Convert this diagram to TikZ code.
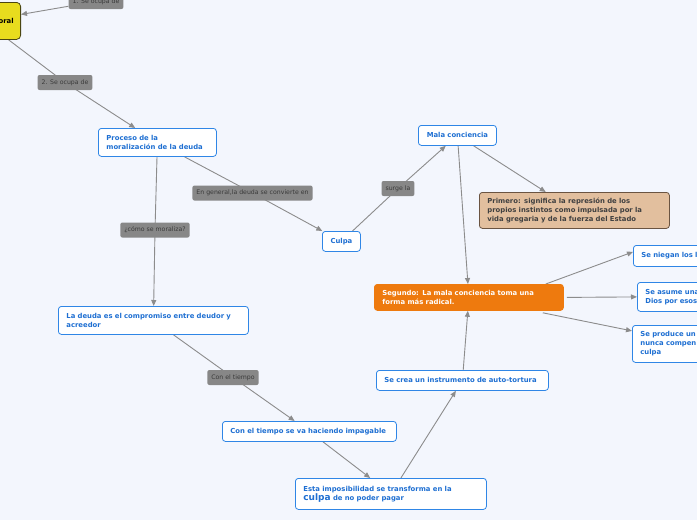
\documentclass[tikz,border=0pt]{standalone}
\usepackage{fontspec}
\setmainfont{DejaVu Sans}
\usetikzlibrary{arrows.meta}
\definecolor{bgc}{HTML}{F3F6FD}
\definecolor{tblue}{HTML}{2F86E6}
\definecolor{ttext}{HTML}{1E6FD2}
\definecolor{lblfill}{HTML}{878787}
\definecolor{lbltext}{HTML}{3A3A3A}
\definecolor{edgec}{HTML}{8C8C8C}
\definecolor{orangec}{HTML}{EE7A0E}
\definecolor{tanc}{HTML}{E2BF9E}
\definecolor{tanb}{HTML}{6A5442}
\definecolor{yellowc}{HTML}{E8DC1E}
\definecolor{yellowb}{HTML}{4A4612}
\pgfdeclarelayer{bg}
\pgfdeclarelayer{edges}
\pgfsetlayers{bg,edges,main}
\tikzset{
  topic/.style={rectangle, rounded corners=3pt, draw=tblue, line width=0.8pt, fill=white,
    text=ttext, font=\fontsize{6.85}{9}\selectfont\bfseries, align=left,
    inner xsep=8pt, inner ysep=3pt, anchor=north west},
  lbl/.style={rectangle, rounded corners=2pt, fill=lblfill, text=lbltext,
    font=\fontsize{6.2}{7}\selectfont, inner xsep=4pt, inner ysep=0pt, minimum height=15pt},
  conn/.style={draw=edgec, line width=0.9pt, -{Triangle[length=6pt,width=5pt]}},
}
\begin{document}
\begin{tikzpicture}[x=1pt,y=-1pt]
\useasboundingbox (0,0) rectangle (697,520);
\clip (0,0) rectangle (697,520);
\begin{pgfonlayer}{bg}
\fill[bgc] (0,0) rectangle (697,520);
\end{pgfonlayer}

% root
\node[rectangle, rounded corners=4pt, draw=yellowb, line width=0.8pt, fill=yellowc,
  font=\fontsize{6.85}{9}\selectfont\bfseries, text=black, anchor=north east,
  text width=60pt, align=right, inner xsep=7pt, minimum height=37pt] (root) at (21,2) {oral};

% labels
\node[lbl] (l1) at (96,1.5) {1. Se ocupa de};
\node[lbl] (l2) at (65,82.5) {2. Se ocupa de};
\node[lbl] (lcomo) at (155,230) {¿cómo se moraliza?};
\node[lbl] (lgen) at (252.5,193) {En general,la deuda se convierte en};
\node[lbl] (lsurge) at (398,188.5) {surge la};
\node[lbl] (ltiempo) at (233,377.5) {Con el tiempo};

% topics
\node[topic, text width=102pt, minimum height=28pt] (proc) at (98,128) {Proceso de la\\moralización de la deuda};
\node[topic, text width=22pt, minimum height=20pt, align=center] (culpa) at (322,231) {Culpa};
\node[topic, text width=62pt, minimum height=20pt, align=center] (mala) at (418,125) {Mala conciencia};
\node[topic, draw=tanb, fill=tanc, text=black!75, text width=174pt, minimum height=36pt] (prim) at (479,192)
  {Primero: significa la represión de los\\propios instintos como impulsada por la\\vida gregaria y de la fuerza del Estado};
\node[topic, draw=orangec, fill=orangec, text=white, text width=173pt, minimum height=26pt] (seg) at (374,284)
  {Segundo: La mala conciencia toma una\\forma más radical.};
\node[topic, text width=134pt, minimum height=21pt] (nieg) at (633,245) {Se niegan los l};
\node[topic, text width=134pt, minimum height=29pt] (asume) at (637,282) {Se asume una\\Dios por esos};
\node[topic, text width=134pt, minimum height=37pt] (prod) at (632,325) {Se produce un\\nunca compen\\culpa};
\node[topic, text width=174pt, minimum height=28pt] (deuda) at (58,306) {La deuda es el compromiso entre deudor y\\acreedor};
\node[topic, text width=158pt, minimum height=20pt] (impag) at (222,421) {Con el tiempo se va haciendo impagable};
\node[topic, text width=175pt, minimum height=31pt] (esta) at (295,478)
  {Esta imposibilidad se transforma en la\\{\fontsize{9}{9}\selectfont culpa} de no poder pagar};
\node[topic, text width=156pt, minimum height=20pt] (crea) at (376,370) {Se crea un instrumento de auto-tortura};

% edges
\begin{pgfonlayer}{edges}
\draw[conn] (l1) -- (root);
\draw[conn] (root) -- (l2.center) -- (proc);
\draw[conn] (proc) -- (lcomo.center) -- (deuda);
\draw[conn] (proc) -- (lgen.center) -- (culpa);
\draw[conn] (culpa) -- (lsurge.center) -- (mala);
\draw[conn] (mala) -- (prim);
\draw[conn] (mala) -- (seg);
\draw[conn] ([xshift=-18pt]seg.north east) -- ([yshift=4pt]nieg.west);
\draw[conn] ([xshift=3pt]seg.east) -- (asume.west);
\draw[conn] ([xshift=-21pt,yshift=-2pt]seg.south east) -- ([yshift=13pt]prod.west);
\draw[conn] (deuda) -- (ltiempo.center) -- (impag);
\draw[conn] (impag) -- (esta);
\draw[conn] (esta) -- (crea);
\draw[conn] (crea) -- (seg);
\end{pgfonlayer}
\end{tikzpicture}
\end{document}
